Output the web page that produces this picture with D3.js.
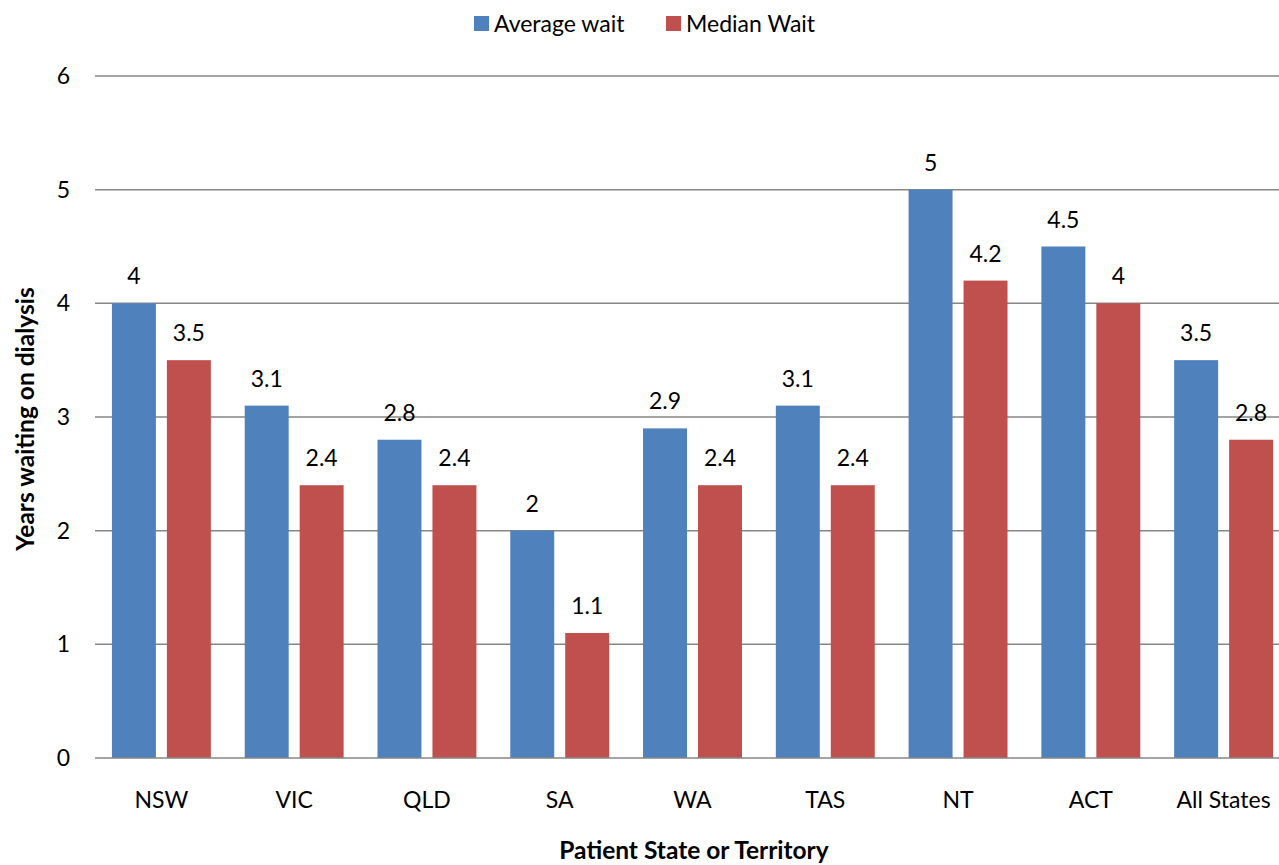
<!DOCTYPE html>
<html><head><meta charset="utf-8">
<script src="https://cdn.jsdelivr.net/npm/d3@7"></script>
<style>body{margin:0;background:#fff}svg{display:block}text{font-family:Lato,"Open Sans",sans-serif;fill:#000}</style>
</head><body><svg id="c" width="1279" height="865"></svg>
<script>
const categories = ["NSW","VIC","QLD","SA","WA","TAS","NT","ACT","All States"];
const averageWait = [4,3.1,2.8,2,2.9,3.1,5,4.5,3.5];
const medianWait = [3.5,2.4,2.4,1.1,2.4,2.4,4.2,4,2.8];
const seriesNames = ["Average wait","Median Wait"];
const yTicks = [0,1,2,3,4,5,6];
const colors = ["#4F81BD","#C0504D"];

(function(){
const svg = d3.select("#c");
const pl = 95, pr = 1279, pt = 76, pb = 758;
const fs = 23;
const x = d3.scaleBand().domain(categories).range([pl, 1290]).paddingInner(0.255).paddingOuter(0.1275);
const xs = d3.scaleBand().domain([0,1]).range([0, x.bandwidth()]).paddingInner(0.2);
const y = d3.scaleLinear().domain([0,6]).range([pb, pt]);

svg.append("g").selectAll("line").data(yTicks.filter(d=>d>0)).join("line")
  .attr("x1", pl).attr("x2", pr).attr("y1", d=>y(d)).attr("y2", d=>y(d))
  .attr("stroke", "#868686").attr("stroke-width", 1.5);

svg.append("g").selectAll("text").data(yTicks).join("text")
  .attr("x", 70).attr("y", d=>y(d)).attr("dy","0.35em").attr("text-anchor","end")
  .attr("font-size", fs).text(d=>d);

const data = [averageWait, medianWait];
data.forEach((vals, si) => {
  const g = svg.append("g");
  g.selectAll("rect").data(vals).join("rect")
    .attr("x", (d,i)=>x(categories[i]) + xs(si))
    .attr("width", xs.bandwidth())
    .attr("y", d=>y(d)).attr("height", d=>y(0)-y(d))
    .attr("fill", colors[si]);
  g.selectAll("text").data(vals).join("text")
    .attr("x", (d,i)=>x(categories[i]) + xs(si) + xs.bandwidth()/2)
    .attr("y", d=>y(d) - 19).attr("text-anchor","middle")
    .attr("font-size", fs).text(d=>d);
});

svg.append("line").attr("x1", pl).attr("x2", pr).attr("y1", y(0)).attr("y2", y(0))
  .attr("stroke", "#868686").attr("stroke-width", 1.5);

svg.append("g").selectAll("text").data(categories).join("text")
  .attr("x", d=>x(d)+x.bandwidth()/2).attr("y", 808).attr("text-anchor","middle")
  .attr("font-size", fs).text(d=>d);

svg.append("text").attr("x", 694).attr("y", 859).attr("text-anchor","middle")
  .attr("font-size", 24.5).attr("font-weight","bold").text("Patient State or Territory");
svg.append("text").attr("transform","translate(34,419) rotate(-90)").attr("text-anchor","middle")
  .attr("font-size", 24.5).attr("font-weight","bold").text("Years waiting on dialysis");

const lg = svg.append("g");
const lx = [474, 666];
seriesNames.forEach((n,i)=>{
  lg.append("rect").attr("x", lx[i]).attr("y", 16).attr("width", 15).attr("height", 15).attr("fill", colors[i]);
  lg.append("text").attr("x", lx[i]+20).attr("y", 32).attr("font-size", fs).text(n);
});
})();
</script></body></html>
